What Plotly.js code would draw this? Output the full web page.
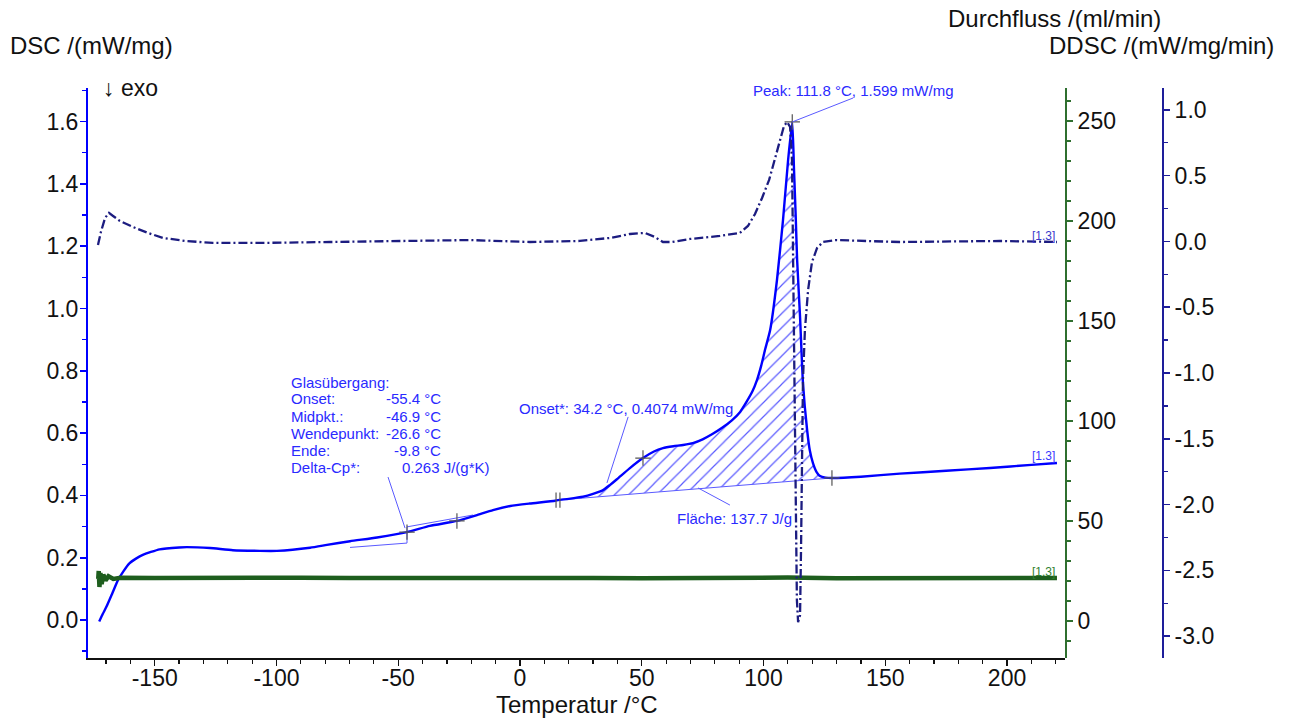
<!DOCTYPE html>
<html>
<head>
<meta charset="utf-8">
<script src="https://cdn.plot.ly/plotly-3.0.1.min.js"></script>
<style>html,body{margin:0;padding:0;background:#fff;}#chart{width:1289px;height:720px;}</style>
</head>
<body>
<div id="chart"></div>
<script>
// ---------- data ----------
const dscT = [-172.8,-171.3,-169.8,-167.4,-165.1,-162.8,-160.4,-157.7,-154.9,-148.0,-140,-136.8,-127.3,-117.9,-106.8,-99.8,-86.2,-79.3,-69.8,-58.7,-46.4,-37,-25.9,-18,-11.1,-4,4,14.4,15.6,20,25.9,30,34.1,37,39.8,45,50.5,55,58.7,63,67,71,75,79,83,87,90.4,93,95.5,97.3,99,100.7,102.7,105.5,108,110.1,111.8,112.5,113.2,113.8,115,116.2,117.9,119,120.3,121.8,123.2,125.5,128.1,140,156,175,193,210,220.5];
const dscV = [-0.005,0.020,0.043,0.086,0.128,0.157,0.182,0.197,0.209,0.227,0.233,0.234,0.231,0.224,0.222,0.222,0.232,0.241,0.253,0.265,0.282,0.302,0.318,0.336,0.353,0.366,0.374,0.383,0.385,0.389,0.396,0.405,0.417,0.434,0.452,0.487,0.520,0.541,0.552,0.558,0.562,0.568,0.580,0.597,0.617,0.641,0.668,0.700,0.735,0.770,0.815,0.870,0.930,1.090,1.284,1.477,1.599,1.450,1.300,1.156,0.973,0.761,0.610,0.545,0.504,0.475,0.462,0.457,0.456,0.460,0.470,0.479,0.488,0.498,0.504];

const ddscT = [-173.3,-172.1,-170.4,-168.8,-167.1,-164.3,-158.9,-152.8,-146.6,-137.6,-126.1,-106.8,-78,-49.3,-20.5,4.1,24.6,37,45.2,51.3,55.4,58.7,62.4,69.8,82.1,90.3,93.6,96.5,99.4,102.3,104.7,106.8,108.4,109.7,110.9,111.7,112.1,112.5,112.9,113.3,113.7,114.2,115,115.4,115.8,116.2,117,118.3,119.9,122,124.4,129.4,156,197,220.5];
const ddscV = [-0.027,0.072,0.179,0.217,0.194,0.156,0.110,0.065,0.027,0.004,-0.011,-0.011,-0.004,0.004,0.011,-0.004,0.004,0.027,0.057,0.065,0.034,-0.004,-0.004,0.019,0.042,0.065,0.118,0.209,0.331,0.468,0.635,0.787,0.878,0.909,0.871,0.620,-0.065,-0.825,-1.586,-2.346,-2.726,-2.894,-2.840,-2.346,-1.586,-1.053,-0.673,-0.369,-0.156,-0.049,-0.004,0.011,-0.004,0.004,-0.004];

const flowT = [-173.2,-173.0,-172.7,-172.3,-171.8,-171.1,-170.2,-169.0,-167.0,-164.0,-150,-130,-110,-90,-70,-50,-30,-10,10,30,50,70,90,110,130,150,170,190,210,220.5];
const flowV = [21.0,25.0,17.0,24.0,18.5,23.2,20.2,22.4,21.0,21.6,21.5,21.7,21.4,21.6,21.5,21.6,21.4,21.5,21.6,21.5,21.4,21.6,21.5,21.7,21.4,21.5,21.6,21.5,21.6,21.5];

// Peak-area baseline (start / end)
const areaBaseT = [15.6, 128.1];
const areaBaseV = [0.385, 0.456];

// Glass-transition construction lines
const gtUpperT = [-46.4, -19.3];
const gtUpperV = [0.299, 0.337];
const gtLowerT = [-69.8, -46.4];
const gtLowerV = [0.233, 0.247];
const gtVertT = [-46.4, -46.4];
const gtVertV = [0.247, 0.299];

// evaluation markers
const crossT = [-46.4, -25.9, 50.5, 111.8, 128.1];
const crossV = [0.282, 0.318, 0.520, 1.599, 0.456];
const dblT = [14.8, 16.4];
const dblV = [0.385, 0.385];

// tick labels
const xTickVals = [-150,-100,-50,0,50,100,150,200];
const xTickText = ['-150','-100','-50','0','50','100','150','200'];
const dscTickVals = [0,0.2,0.4,0.6,0.8,1.0,1.2,1.4,1.6];
const dscTickText = ['0.0','0.2','0.4','0.6','0.8','1.0','1.2','1.4','1.6'];
const flowTickVals = [0,50,100,150,200,250];
const flowTickText = ['0','50','100','150','200','250'];
const ddscTickVals = [-3,-2.5,-2,-1.5,-1,-0.5,0,0.5,1];
const ddscTickText = ['-3.0','-2.5','-2.0','-1.5','-1.0','-0.5','0.0','0.5','1.0'];

// ---------- layout helpers ----------
const L = 88, R = 1170, T = 88, B = 658;
const W = R - L, H = B - T;
const PX = x => (x - L) / W;
const PY = y => (B - y) / H;
const FONT = 'Liberation Sans, Arial, sans-serif';
const BLUE = '#0000ff';
const ANN = '#2a2aff';
const NAVY = '#1c1c80';
const GREEN = '#1e5e1e';

// area polygon from DSC curve between baseline ends
const areaX = [], areaY = [];
for (let i = 0; i < dscT.length; i++) {
  if (dscT[i] >= areaBaseT[0] && dscT[i] <= areaBaseT[1]) { areaX.push(dscT[i]); areaY.push(dscV[i]); }
}
areaX.push(areaBaseT[1], areaBaseT[0]);
areaY.push(areaBaseV[1], areaBaseV[0]);

const traces = [
  {x: areaX, y: areaY, type: 'scatter', mode: 'lines', fill: 'toself',
   fillcolor: 'rgba(0,0,0,0)', line: {width: 0},
   fillpattern: {shape: '/', fgcolor: '#5a5aff', bgcolor: 'rgba(255,255,255,0)', size: 10, solidity: 0.12},
   xaxis: 'x', yaxis: 'y', hoverinfo: 'skip'},
  {x: areaBaseT, y: areaBaseV, type: 'scatter', mode: 'lines', line: {color: '#5a5aff', width: 1}, yaxis: 'y'},
  {x: gtUpperT, y: gtUpperV, type: 'scatter', mode: 'lines', line: {color: '#5a5aff', width: 1}, yaxis: 'y'},
  {x: gtLowerT, y: gtLowerV, type: 'scatter', mode: 'lines', line: {color: '#5a5aff', width: 1}, yaxis: 'y'},
  {x: gtVertT, y: gtVertV, type: 'scatter', mode: 'lines', line: {color: '#5a5aff', width: 1}, yaxis: 'y'},
  {x: dscT, y: dscV, type: 'scatter', mode: 'lines', line: {color: BLUE, width: 2.4, shape: 'spline', smoothing: 0.5}, yaxis: 'y'},
  {x: crossT, y: crossV, type: 'scatter', mode: 'markers', marker: {symbol: 'cross-thin', size: 11, line: {color: '#555', width: 1.2}}, yaxis: 'y'},
  {x: dblT, y: dblV, type: 'scatter', mode: 'markers', marker: {symbol: 'line-ns', size: 11, line: {color: '#555', width: 1.2}}, yaxis: 'y'},
  {x: flowT, y: flowV, type: 'scatter', mode: 'lines', line: {color: GREEN, width: 4.5}, yaxis: 'y2'},
  {x: ddscT, y: ddscV, type: 'scatter', mode: 'lines', line: {color: NAVY, width: 2.3, dash: '9px,3px,2px,3px'}, yaxis: 'y3'}
];

const tickFont = {family: FONT, size: 23, color: '#111'};

const layout = {
  width: 1289, height: 720,
  margin: {l: L, r: 1289 - R, t: T, b: 720 - B, pad: 0},
  paper_bgcolor: '#fff', plot_bgcolor: '#fff',
  showlegend: false, hovermode: false,
  xaxis: {
    domain: [0, PX(1065)], range: [-177.4, 223.8],
    showgrid: false, zeroline: false, showline: true, linecolor: '#111', linewidth: 1.5,
    ticks: 'outside', ticklen: 6, tickwidth: 1.3, tickcolor: '#111',
    tickmode: 'array', tickvals: xTickVals, ticktext: xTickText, tickfont: tickFont,
    ticklabelstandoff: -7,
    minor: {dtick: 10, tick0: 0, ticks: 'outside', ticklen: 4, tickwidth: 1.2, tickcolor: '#111', showgrid: false}
  },
  yaxis: {
    range: [-0.122, 1.708], showgrid: false, zeroline: false,
    showline: true, linecolor: BLUE, linewidth: 2,
    ticks: 'outside', ticklen: 6, tickwidth: 1.6, tickcolor: BLUE,
    tickmode: 'array', tickvals: dscTickVals, ticktext: dscTickText, tickfont: tickFont,
    ticklabelstandoff: -3,
    minor: {dtick: 0.1, tick0: 0, ticks: 'outside', ticklen: 4, tickwidth: 1.4, tickcolor: BLUE, showgrid: false}
  },
  yaxis2: {
    overlaying: 'y', anchor: 'free', position: PX(1066), side: 'right',
    range: [-18.5, 266.5], showgrid: false, zeroline: false,
    showline: true, linecolor: '#2f6f2f', linewidth: 2,
    ticks: 'outside', ticklen: 6, tickwidth: 1.5, tickcolor: '#2f6f2f',
    tickmode: 'array', tickvals: flowTickVals, ticktext: flowTickText, tickfont: tickFont,
    minor: {dtick: 10, tick0: 0, ticks: 'outside', ticklen: 4, tickwidth: 1.3, tickcolor: '#2f6f2f', showgrid: false}
  },
  yaxis3: {
    overlaying: 'y', anchor: 'free', position: PX(1163), side: 'right',
    range: [-3.167, 1.167], showgrid: false, zeroline: false,
    showline: true, linecolor: '#1e1e9a', linewidth: 2,
    ticks: 'outside', ticklen: 6, tickwidth: 1.5, tickcolor: '#1e1e9a',
    tickmode: 'array', tickvals: ddscTickVals, ticktext: ddscTickText, tickfont: tickFont,
    minor: {dtick: 0.25, tick0: 0, ticks: 'outside', ticklen: 4, tickwidth: 1.3, tickcolor: '#1e1e9a', showgrid: false}
  },
  shapes: [
    {type: 'line', xref: 'x', yref: 'y', x0: 111.8, y0: 1.599, x1: 136.8, y1: 1.676, line: {color: '#5a5aff', width: 1}},
    {type: 'line', xref: 'x', yref: 'y', x0: -54.2, y0: 0.459, x1: -47.2, y1: 0.295, line: {color: '#5a5aff', width: 1}},
    {type: 'line', xref: 'x', yref: 'y', x0: 44.4, y0: 0.652, x1: 35.7, y1: 0.440, line: {color: '#5a5aff', width: 1}},
    {type: 'line', xref: 'x', yref: 'y', x0: 73.1, y0: 0.424, x1: 86.2, y1: 0.369, line: {color: '#5a5aff', width: 1}}
  ],
  annotations: []
};

function txt(text, x, y, opts) {
  opts = opts || {};
  layout.annotations.push({
    text: text, xref: 'paper', yref: 'paper', x: PX(x), y: PY(y),
    xanchor: opts.anchor || 'left', yanchor: 'middle', showarrow: false,
    font: {family: FONT, size: opts.size || 15, color: opts.color || ANN}
  });
}

// axis titles
txt('DSC /(mW/mg)', 8, 46, {size: 24, color: '#111'});
txt('↓ exo', 101, 88, {size: 23, color: '#111'});
txt('Durchfluss /(ml/min)', 1163, 18, {size: 24, color: '#111', anchor: 'right'});
txt('DDSC /(mW/mg/min)', 1276, 46, {size: 24, color: '#111', anchor: 'right'});
txt('Temperatur /°C', 577, 704, {size: 24, color: '#111', anchor: 'center'});

// evaluation texts
txt('Peak: 111.8 °C, 1.599 mW/mg', 751, 90);
txt('Onset*: 34.2 °C, 0.4074 mW/mg', 517, 408);
txt('Fläche: 137.7 J/g', 675, 518);
txt('Glasübergang:', 289, 382);
txt('Onset:', 289, 399);
txt('Midpkt.:', 289, 416);
txt('Wendepunkt:', 289, 433);
txt('Ende:', 289, 450);
txt('Delta-Cp*:', 289, 467);
txt('-55.4 °C', 443, 399, {anchor: 'right'});
txt('-46.9 °C', 443, 416, {anchor: 'right'});
txt('-26.6 °C', 443, 433, {anchor: 'right'});
txt('-9.8 °C', 443, 450, {anchor: 'right'});
txt('0.263 J/(g*K)', 400, 467);

// segment labels
txt('[1.3]', 1030, 236, {size: 12, color: '#3a3acc'});
txt('[1.3]', 1030, 456, {size: 12, color: '#3a3aff'});
txt('[1.3]', 1030, 572, {size: 12, color: '#2f7f2f'});

Plotly.newPlot('chart', traces, layout, {displayModeBar: false, staticPlot: true});
</script>
</body>
</html>
